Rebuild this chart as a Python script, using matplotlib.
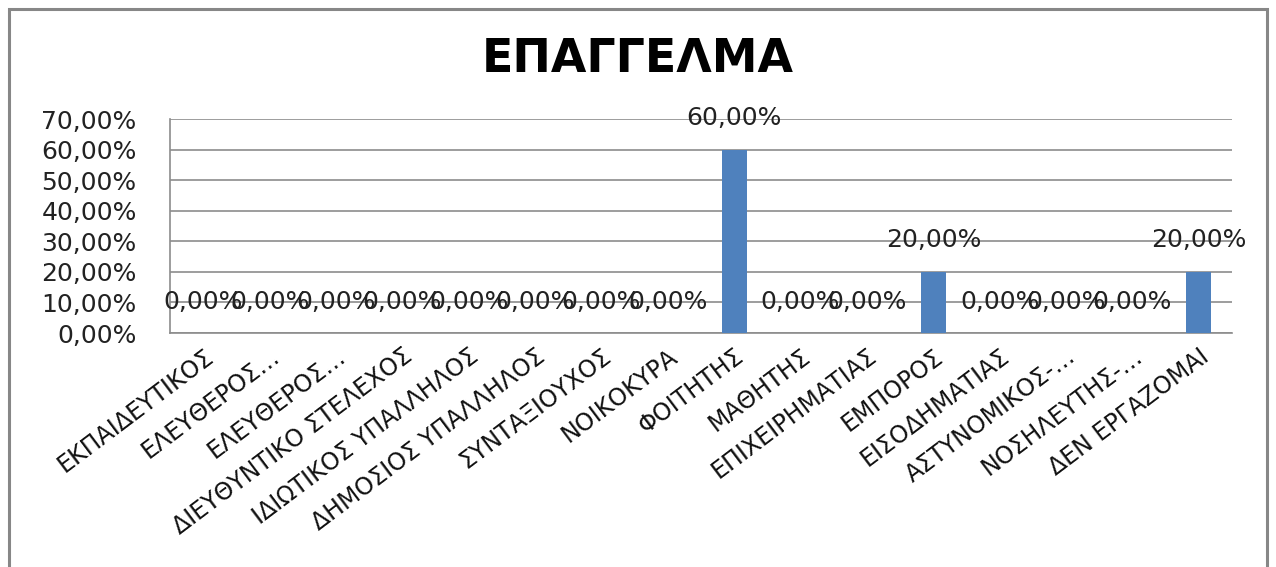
import numpy as np
import matplotlib
matplotlib.use("Agg")
import matplotlib.pyplot as plt
from matplotlib.patches import Rectangle

# data
categories = ["ΕΚΠΑΙΔΕΥΤΙΚΟΣ", "ΕΛΕΥΘΕΡΟΣ…", "ΕΛΕΥΘΕΡΟΣ…", "ΔΙΕΥΘΥΝΤΙΚΟ ΣΤΕΛΕΧΟΣ",
              "ΙΔΙΩΤΙΚΟΣ ΥΠΑΛΛΗΛΟΣ", "ΔΗΜΟΣΙΟΣ ΥΠΑΛΛΗΛΟΣ", "ΣΥΝΤΑΞΙΟΥΧΟΣ", "ΝΟΙΚΟΚΥΡΑ",
              "ΦΟΙΤΗΤΗΣ", "ΜΑΘΗΤΗΣ", "ΕΠΙΧΕΙΡΗΜΑΤΙΑΣ", "ΕΜΠΟΡΟΣ", "ΕΙΣΟΔΗΜΑΤΙΑΣ",
              "ΑΣΤΥΝΟΜΙΚΟΣ-…", "ΝΟΣΗΛΕΥΤΗΣ-…", "ΔΕΝ ΕΡΓΑΖΟΜΑΙ"]
values = [0, 0, 0, 0, 0, 0, 0, 0, 60, 0, 0, 20, 0, 0, 0, 20]
yticks = [0, 10, 20, 30, 40, 50, 60, 70]

def pct(v):
    return f"{v:.2f}".replace(".", ",") + "%"

fig = plt.figure(figsize=(12.76, 5.67), dpi=100)
ax = fig.add_axes([170 / 1276, 1 - 333 / 567, 1062 / 1276, 214 / 567])

x = np.arange(len(categories))
ax.bar(x, values, width=0.38, color="#4F81BD", zorder=3)

ax.set_xlim(-0.5, len(categories) - 0.5)
ax.set_ylim(0, 70)
ax.set_yticks(yticks)
ax.set_yticklabels([pct(v) for v in yticks], fontsize=18, color="#222222")
ax.tick_params(axis="y", length=0, pad=24)
ax.set_xticks(x)
ax.set_xticklabels(categories, rotation=37, ha="right", rotation_mode="anchor",
                   fontsize=17, color="#111111")
ax.tick_params(axis="x", length=0, pad=8)

ax.grid(axis="y", color="#8c8c8c", linewidth=1.2, zorder=0)
for s in ["top", "right"]:
    ax.spines[s].set_visible(False)
for s in ["left", "bottom"]:
    ax.spines[s].set_color("#8c8c8c")
    ax.spines[s].set_linewidth(1.2)

for xi, v in zip(x, values):
    ax.annotate(pct(v), (xi, v), xytext=(0, 14), textcoords="offset points",
                ha="center", va="bottom", fontsize=18, color="#222222", zorder=4)

fig.text(0.5, 1 - 59 / 567, "ΕΠΑΓΓΕΛΜΑ", ha="center", va="center",
         fontsize=33, fontweight="bold")

# outer chart frame
fig.patches.append(Rectangle((9 / 1276, -0.05), 1258 / 1276, 1.05 - 9 / 567,
                             transform=fig.transFigure, fill=False,
                             edgecolor="#878787", linewidth=2.2))

fig.savefig("out.png", dpi=100)
